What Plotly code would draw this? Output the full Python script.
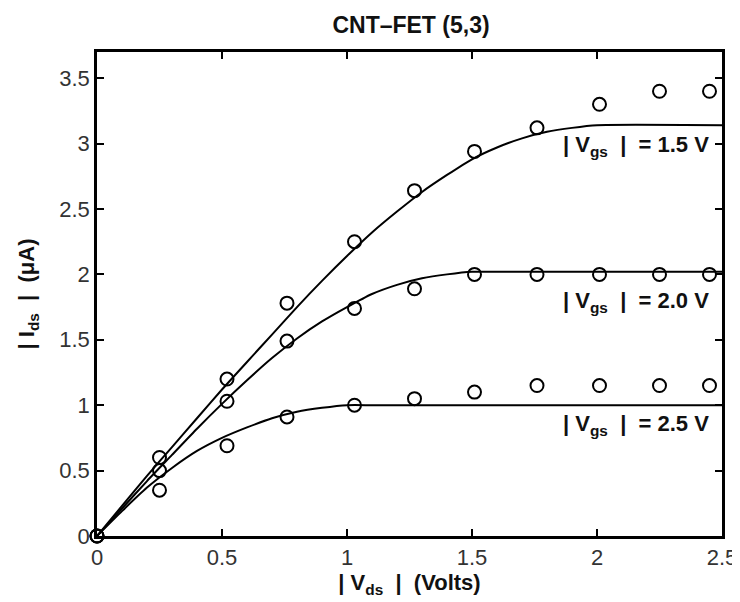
import plotly.graph_objects as go

# Measured points (open circles)
vds_meas = [0.0, 0.25, 0.52, 0.76, 1.03, 1.27, 1.51, 1.76, 2.01, 2.25, 2.45]
ids_vgs15 = [0.0, 0.60, 1.20, 1.78, 2.25, 2.64, 2.94, 3.12, 3.30, 3.40, 3.40]
ids_vgs20 = [0.0, 0.50, 1.03, 1.49, 1.74, 1.89, 2.00, 2.00, 2.00, 2.00, 2.00]
ids_vgs25 = [0.0, 0.35, 0.69, 0.91, 1.00, 1.05, 1.10, 1.15, 1.15, 1.15, 1.15]

# Model curves (solid lines)
vds_fit = [0.0, 0.1, 0.2, 0.3, 0.4, 0.5, 0.6, 0.7, 0.8, 0.9, 1.0, 1.1, 1.2,
           1.3, 1.4, 1.5, 1.6, 1.7, 1.8, 1.9, 2.0, 2.5]
fit_vgs15 = [0.0, 0.23, 0.46, 0.68, 0.90, 1.12, 1.33, 1.54, 1.75, 1.95, 2.14,
             2.32, 2.48, 2.63, 2.76, 2.88, 2.97, 3.04, 3.09, 3.12, 3.14, 3.14]
fit_vgs20 = [0.0, 0.21, 0.42, 0.62, 0.82, 1.01, 1.19, 1.36, 1.51, 1.64, 1.75,
             1.85, 1.92, 1.97, 2.00, 2.02, 2.02, 2.02, 2.02, 2.02, 2.02, 2.02]
fit_vgs25 = [0.0, 0.19, 0.37, 0.52, 0.65, 0.75, 0.83, 0.90, 0.95, 0.98, 1.00,
             1.00, 1.00, 1.00, 1.00, 1.00, 1.00, 1.00, 1.00, 1.00, 1.00, 1.00]

labels = ["| V<sub>gs</sub>  |  = 1.5 V", "| V<sub>gs</sub>  |  = 2.0 V", "| V<sub>gs</sub>  |  = 2.5 V"]
label_y = [2.98, 1.79, 0.85]

x_ticks = [0, 0.5, 1, 1.5, 2, 2.5]
y_ticks = [0, 0.5, 1, 1.5, 2, 2.5, 3, 3.5]

fig = go.Figure()
for fy in [fit_vgs15, fit_vgs20, fit_vgs25]:
    fig.add_trace(go.Scatter(x=vds_fit, y=fy, mode="lines",
                             line=dict(color="black", width=2, shape="spline", smoothing=0.6),
                             showlegend=False, hoverinfo="skip"))
for my in [ids_vgs15, ids_vgs20, ids_vgs25]:
    fig.add_trace(go.Scatter(x=vds_meas, y=my, mode="markers",
                             marker=dict(symbol="circle-open", size=13, color="black", line=dict(width=2)),
                             showlegend=False, cliponaxis=False))

for t, yy in zip(labels, label_y):
    fig.add_annotation(x=2.455, y=yy, xref="x", yref="y", text="<b>" + t + "</b>", showarrow=False,
                       xanchor="right", yanchor="middle", font=dict(size=22, color="#111"))

# page body has an 8px margin, so the figure is 8px smaller than the window
W, H = 732, 594
fig.update_layout(
    width=W, height=H,
    margin=dict(l=89, r=18, t=44, b=66),
    paper_bgcolor="white", plot_bgcolor="white",
    font=dict(family="Liberation Sans, Arial, sans-serif", color="#333", size=22),
    title=dict(text="<b>CNT\u2013FET (5,3)</b>", x=403 / W, xanchor="center",
               y=1 - 17 / H, yanchor="middle", font=dict(size=23, color="#111")),
)
fig.update_xaxes(range=[0, 2.5], tickvals=x_ticks, ticktext=[f"{v:g}" for v in x_ticks],
                 ticks="inside", ticklen=7, tickwidth=1.5, tickcolor="black",
                 showline=True, linecolor="black", linewidth=2.5, mirror="ticks",
                 showgrid=False, zeroline=False, automargin=False,
                 title=dict(text="<b>| V<sub>ds</sub>  |  (Volts)</b>", standoff=4,
                            font=dict(size=22, color="#111")))
fig.update_yaxes(range=[0, 3.7], tickvals=y_ticks, ticktext=[f"{v:g}" for v in y_ticks],
                 ticks="inside", ticklen=7, tickwidth=1.5, tickcolor="black",
                 showline=True, linecolor="black", linewidth=2.5, mirror="ticks",
                 showgrid=False, zeroline=False, automargin=False,
                 title=dict(text="<b>| I<sub>ds</sub>  |  (\u03bcA)</b>", standoff=19,
                            font=dict(size=22, color="#111")))

fig.write_html("out.html")
